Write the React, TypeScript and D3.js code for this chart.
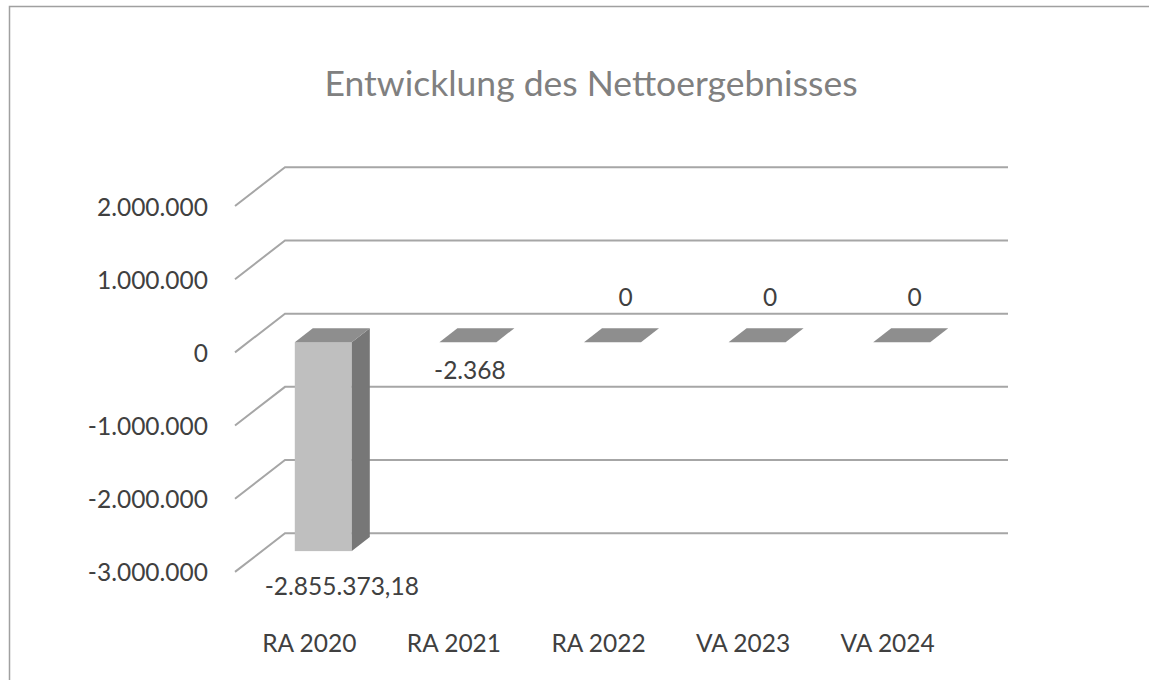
import React from "react";
import * as d3 from "d3";

const categories = ["RA 2020", "RA 2021", "RA 2022", "VA 2023", "VA 2024"];
const values = [-2855373.18, -2368, 0, 0, 0];
const valueLabels = ["-2.855.373,18", "-2.368", "0", "0", "0"];
const yTicks = [2000000, 1000000, 0, -1000000, -2000000, -3000000];
const yTickLabels = ["2.000.000", "1.000.000", "0", "-1.000.000", "-2.000.000", "-3.000.000"];
const title = "Entwicklung des Nettoergebnisses";

const W = 1149;
const H = 680;
const FONT = "Lato, 'Open Sans', sans-serif";

export default function App() {
  // back wall plane
  const y = d3.scaleLinear().domain([-3000000, 2000000]).range([533.2, 167.3]);
  const x = d3.scaleBand<string>().domain(categories).range([285, 1008]).padding(0);
  const bw = x.bandwidth();
  // depth vector from back wall to front edge of side wall
  const wallDx = -50;
  const wallDy = 38.7;
  // bar faces offsets relative to back-wall projection
  const frontDx = -37;
  const frontDy = 28.5;
  const depthDx = 18;
  const depthDy = -14;
  const barW = 57;

  const grid = yTicks.map((t, i) => {
    const yb = y(t);
    return (
      <g key={"g" + i}>
        <path
          d={`M${285 + wallDx},${yb + wallDy} L285,${yb} L1008,${yb}`}
          fill="none"
          stroke="#a6a6a6"
          strokeWidth={2}
        />
        <text
          x={208}
          y={yb + wallDy}
          textAnchor="end"
          dominantBaseline="central"
          fontFamily={FONT}
          fontSize={24.5}
          fill="#404040"
        >
          {yTickLabels[i]}
        </text>
      </g>
    );
  });

  const bars = categories.map((c, i) => {
    const v = values[i];
    const x0 = (x(c) as number) + (bw - barW) / 2 + 3 + frontDx;
    const x1 = x0 + barW;
    const yTop = y(Math.max(0, v)) + frontDy;
    const yBot = y(Math.min(0, v)) + frontDy;
    const top = `M${x0},${yTop} L${x1},${yTop} L${x1 + depthDx},${yTop + depthDy} L${x0 + depthDx},${yTop + depthDy} Z`;
    const side = `M${x1},${yTop} L${x1 + depthDx},${yTop + depthDy} L${x1 + depthDx},${yBot + depthDy} L${x1},${yBot} Z`;
    const fc = (x0 + x1) / 2;
    let lx: number;
    let ly: number;
    if (v < 0) {
      const tall = yBot - yTop > 20;
      lx = fc + (tall ? 18.5 : 2);
      ly = yBot + (tall ? 34 : 27);
    } else {
      lx = fc + 13;
      ly = yTop - 46;
    }
    return (
      <g key={"b" + i}>
        {yBot - yTop > 0.5 && (
          <rect x={x0} y={yTop} width={barW} height={yBot - yTop} fill="#bfbfbf" />
        )}
        {yBot - yTop > 0.5 && <path d={side} fill="#777777" />}
        <path d={top} fill="#8e8e8e" />
        <text
          x={lx}
          y={ly}
          textAnchor="middle"
          dominantBaseline="central"
          fontFamily={FONT}
          fontSize={24.5}
          fill="#404040"
        >
          {valueLabels[i]}
        </text>
      </g>
    );
  });

  const catLabels = categories.map((c, i) => (
    <text
      key={"c" + i}
      x={(x(c) as number) + bw / 2 + wallDx + 2}
      y={642}
      textAnchor="middle"
      dominantBaseline="central"
      fontFamily={FONT}
      fontSize={24.5}
      fill="#404040"
    >
      {c}
    </text>
  ));

  return (
    <svg
      width={W}
      height={H}
      style={{ position: "absolute", left: 0, top: 0, background: "#ffffff" }}
    >
      <rect x={0} y={0} width={W} height={H} fill="#ffffff" />
      <path d={`M9.5,${H} L9.5,6.5 L${W},6.5`} fill="none" stroke="#a0a0a0" strokeWidth={1.5} />
      <text
        x={591}
        y={82}
        textAnchor="middle"
        dominantBaseline="central"
        fontFamily={FONT}
        fontSize={35.5}
        fill="#808080"
      >
        {title}
      </text>
      {grid}
      {bars}
      {catLabels}
    </svg>
  );
}
